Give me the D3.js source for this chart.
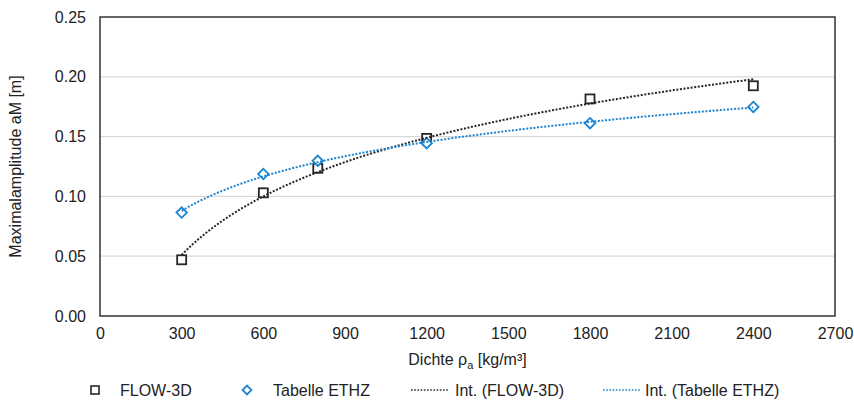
<!DOCTYPE html>
<html><head><meta charset="utf-8">
<script src="https://cdn.jsdelivr.net/npm/d3@7"></script>
<style>body{margin:0;background:#fff;}svg{display:block;font-family:"Liberation Sans",Arial,sans-serif;}</style>
</head><body>
<svg id="c" width="854" height="405"></svg>
<script>
const densities = [300, 600, 800, 1200, 1800, 2400];
const flow3d = [0.047, 0.103, 0.1235, 0.1485, 0.1815, 0.1925];
const ethz = [0.0865, 0.1187, 0.1298, 0.1445, 0.1612, 0.1748];
const xTicks = [0, 300, 600, 900, 1200, 1500, 1800, 2100, 2400, 2700];
const yTicks = [0.00, 0.05, 0.10, 0.15, 0.20, 0.25];
const seriesNames = ["FLOW-3D", "Tabelle ETHZ", "Int. (FLOW-3D)", "Int. (Tabelle ETHZ)"];

const black = "#262626", blue = "#1b84d0";
const svg = d3.select("#c");
const L = 100, R = 835, T = 17, B = 316;
const x = d3.scaleLinear().domain([0, 2700]).range([L, R]);
const y = d3.scaleLinear().domain([0, 0.25]).range([B, T]);

// grid
svg.append("g").selectAll("line").data(yTicks.slice(1, -1)).join("line")
  .attr("x1", L).attr("x2", R).attr("y1", d => y(d)).attr("y2", d => y(d))
  .attr("stroke", "#d9d9d9").attr("stroke-width", 1.2);

// frame
svg.append("rect").attr("x", L).attr("y", T).attr("width", R - L).attr("height", B - T)
  .attr("fill", "none").attr("stroke", "#333").attr("stroke-width", 1.5);

// axes labels
const yAxis = d3.axisLeft(y).tickValues(yTicks).tickFormat(d3.format(".2f")).tickSize(0).tickPadding(14);
const ya = svg.append("g").attr("transform", `translate(${L},0)`).call(yAxis);
ya.select(".domain").remove();
ya.selectAll("text").attr("font-size", 16).attr("fill", "#222").attr("font-family", "Liberation Sans, Arial, sans-serif");

const xAxis = d3.axisBottom(x).tickValues(xTicks).tickFormat(d3.format("d")).tickSize(0).tickPadding(12);
const xa = svg.append("g").attr("transform", `translate(0,${B})`).call(xAxis);
xa.select(".domain").remove();
xa.selectAll("text").attr("font-size", 16).attr("fill", "#222").attr("font-family", "Liberation Sans, Arial, sans-serif");

// axis titles
const xt = svg.append("text").attr("x", (L + R) / 2).attr("y", 365).attr("text-anchor", "middle")
  .attr("font-size", 16).attr("fill", "#222");
xt.append("tspan").text("Dichte ρ");
xt.append("tspan").attr("font-size", 11).attr("dy", 4).text("a");
xt.append("tspan").attr("dy", -4).text(" [kg/m³]");

svg.append("text").attr("transform", `translate(21,${(T + B) / 2}) rotate(-90)`)
  .attr("text-anchor", "middle").attr("font-size", 16).attr("fill", "#222")
  .text("Maximalamplitude  aM [m]");

// log trendlines (least-squares fit of y = a + b ln x on the data)
function logFit(xs, ys) {
  const lx = xs.map(Math.log);
  const mx = d3.mean(lx), my = d3.mean(ys);
  const b = d3.sum(lx, (v, i) => (v - mx) * (ys[i] - my)) / d3.sum(lx, v => (v - mx) ** 2);
  const a = my - b * mx;
  return v => a + b * Math.log(v);
}
const fitF = logFit(densities, flow3d), fitE = logFit(densities, ethz);
const xs = d3.range(densities[0], densities[densities.length - 1] + 1, 10);
const line = d3.line().x(d => x(d[0])).y(d => y(d[1]));

// markers
const sq = 9;
svg.append("g").selectAll("rect").data(densities).join("rect")
  .attr("x", (d) => x(d) - sq / 2).attr("y", (d, i) => y(flow3d[i]) - sq / 2)
  .attr("width", sq).attr("height", sq).attr("fill", "#fff").attr("stroke", black).attr("stroke-width", 1.8);
const dia = d3.symbol().type(d3.symbolDiamond2).size(70);
svg.append("g").selectAll("path").data(densities).join("path")
  .attr("d", dia).attr("transform", (d, i) => `translate(${x(d)},${y(ethz[i])})`)
  .attr("fill", "#fff").attr("stroke", blue).attr("stroke-width", 1.8);

svg.append("path").datum(xs.map(v => [v, fitF(v)])).attr("d", line)
  .attr("fill", "none").attr("stroke", black).attr("stroke-width", 2).attr("stroke-dasharray", "2 1.6");
svg.append("path").datum(xs.map(v => [v, fitE(v)])).attr("d", line)
  .attr("fill", "none").attr("stroke", blue).attr("stroke-width", 2).attr("stroke-dasharray", "2 1.6");

// legend
const ly = 390;
const lg = svg.append("g").attr("font-size", 16).attr("fill", "#222");
lg.append("rect").attr("x", 95 - 4).attr("y", ly - 4).attr("width", 8).attr("height", 8)
  .attr("fill", "#fff").attr("stroke", black).attr("stroke-width", 1.6);
lg.append("text").attr("x", 120).attr("y", ly).attr("dy", "0.35em").text(seriesNames[0]);
lg.append("path").attr("d", d3.symbol().type(d3.symbolDiamond2).size(50))
  .attr("transform", `translate(247,${ly})`).attr("fill", "#fff").attr("stroke", blue).attr("stroke-width", 1.8);
lg.append("text").attr("x", 273).attr("y", ly).attr("dy", "0.35em").text(seriesNames[1]);
lg.append("line").attr("x1", 411).attr("x2", 448).attr("y1", ly).attr("y2", ly)
  .attr("stroke", black).attr("stroke-width", 1.6).attr("stroke-dasharray", "1.6 1.6");
lg.append("text").attr("x", 455).attr("y", ly).attr("dy", "0.35em").text(seriesNames[2]);
lg.append("line").attr("x1", 603).attr("x2", 640).attr("y1", ly).attr("y2", ly)
  .attr("stroke", blue).attr("stroke-width", 1.6).attr("stroke-dasharray", "1.6 1.6");
lg.append("text").attr("x", 645).attr("y", ly).attr("dy", "0.35em").text(seriesNames[3]);
</script>
</body></html>
